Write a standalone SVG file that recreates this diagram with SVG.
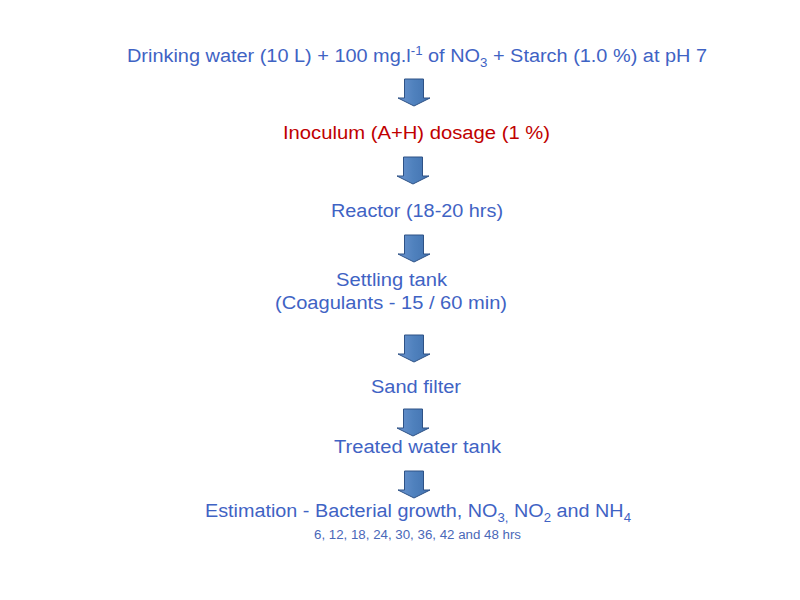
<svg xmlns="http://www.w3.org/2000/svg" width="800" height="600" viewBox="0 0 800 600">
<defs>
<linearGradient id="ag" x1="0" y1="0" x2="1" y2="0">
<stop offset="0" stop-color="#6b94d0"/>
<stop offset="0.5" stop-color="#4f81bd"/>
<stop offset="1" stop-color="#4272b0"/>
</linearGradient>
<path id="arr" d="M-9.5,0 H9.5 V19 H16 L0,27 L-16,19 H-9.5 Z"/>
</defs>
<style>
text{font-family:"Liberation Sans",Arial,sans-serif;font-size:18px;fill:#3f63c4}
.red{fill:#c00000}
.small{font-size:12px;fill:#4a68b8}
.sub{font-size:12px}
.arrow{fill:url(#ag);stroke:#2e5286;stroke-width:1}
</style>
<rect width="800" height="600" fill="#ffffff"/>
<g id="connectors">
<use href="#arr" class="arrow" x="414" y="79"/>
<use href="#arr" class="arrow" x="413" y="157"/>
<use href="#arr" class="arrow" x="414" y="235"/>
<use href="#arr" class="arrow" x="414" y="335"/>
<use href="#arr" class="arrow" x="413" y="409"/>
<use href="#arr" class="arrow" x="414" y="471"/>
</g>
<g id="n1"><text x="127" y="62" textLength="580" lengthAdjust="spacingAndGlyphs">Drinking water (10 L) + 100 mg.l<tspan class="sub" dy="-7">-1</tspan><tspan dy="7"> of NO</tspan><tspan class="sub" dy="5">3</tspan><tspan dy="-5"> + Starch (1.0 %) at pH 7</tspan></text></g>
<g id="n2"><text class="red" x="283" y="139" textLength="267" lengthAdjust="spacingAndGlyphs">Inoculum (A+H) dosage (1 %)</text></g>
<g id="n3"><text x="331" y="217" textLength="172" lengthAdjust="spacingAndGlyphs">Reactor (18-20 hrs)</text></g>
<g id="n4"><text x="336" y="286" textLength="111" lengthAdjust="spacingAndGlyphs">Settling tank</text><text x="275" y="309" textLength="232" lengthAdjust="spacingAndGlyphs">(Coagulants - 15 / 60 min)</text></g>
<g id="n5"><text x="371" y="393" textLength="90" lengthAdjust="spacingAndGlyphs">Sand filter</text></g>
<g id="n6"><text x="334" y="453" textLength="167" lengthAdjust="spacingAndGlyphs">Treated water tank</text></g>
<g id="n7"><text x="205" y="517" textLength="426" lengthAdjust="spacingAndGlyphs">Estimation - Bacterial growth, NO<tspan class="sub" dy="5">3,</tspan><tspan dy="-5"> NO</tspan><tspan class="sub" dy="5">2</tspan><tspan dy="-5"> and NH</tspan><tspan class="sub" dy="5">4</tspan></text><text class="small" x="314" y="539" textLength="207" lengthAdjust="spacingAndGlyphs">6, 12, 18, 24, 30, 36, 42 and 48 hrs</text></g>
</svg>
